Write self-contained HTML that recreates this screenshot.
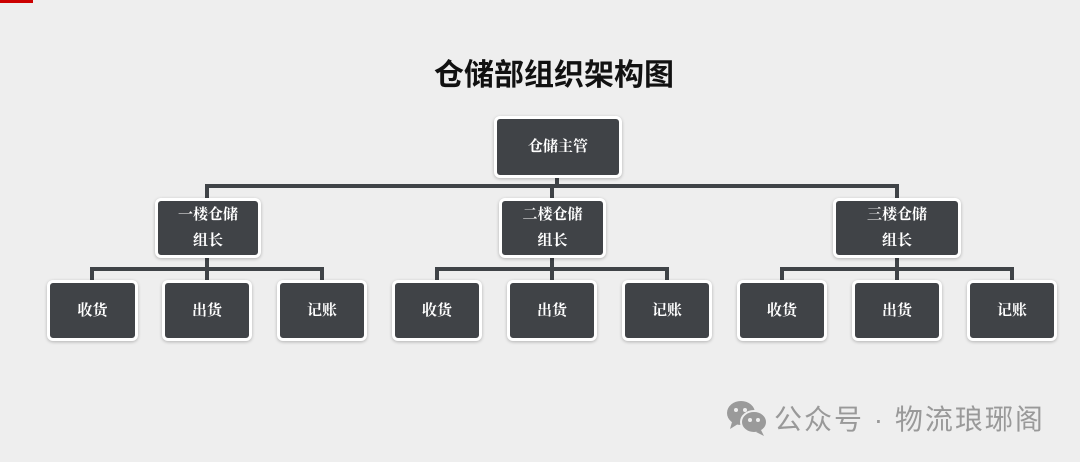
<!DOCTYPE html>
<html><head><meta charset="utf-8"><style>
body{margin:0;width:1080px;height:462px;background:#eeeeee;position:relative;overflow:hidden;font-family:"Liberation Serif","Noto Serif CJK SC",serif}
.b{position:absolute;background:#404347;border:3px solid #fff;border-radius:6px;box-sizing:border-box;color:#fff;display:flex;align-items:center;justify-content:center;text-align:center;font-size:15px;font-weight:bold;line-height:26px;box-shadow:0 1px 3px rgba(0,0,0,.25)}
.l{position:absolute;background:#3f4347}
h1{position:absolute;margin:0;left:0;width:1108px;top:50px;text-align:center;font:bold 30px "Liberation Sans","Noto Sans CJK SC",sans-serif;color:#111}
</style></head><body>
<div style="position:absolute;left:0;top:0;width:33px;height:3px;background:#c00"></div>
<h1>仓储部组织架构图</h1>
<div class="l" style="left:205px;top:184px;width:694px;height:4px"></div>
<div class="l" style="left:555px;top:175px;width:4px;height:12px"></div>
<div class="l" style="left:205px;top:184px;width:4px;height:18px"></div>
<div class="l" style="left:550px;top:184px;width:4px;height:18px"></div>
<div class="l" style="left:895px;top:184px;width:4px;height:18px"></div>
<div class="b" style="left:494px;top:116px;width:128px;height:62px">仓储主管</div>

<div class="l" style="left:90px;top:267px;width:234px;height:4px"></div>
<div class="l" style="left:435px;top:267px;width:234px;height:4px"></div>
<div class="l" style="left:780px;top:267px;width:234px;height:4px"></div>
<div class="l" style="left:205px;top:255px;width:4px;height:28px"></div>
<div class="l" style="left:550px;top:255px;width:4px;height:28px"></div>
<div class="l" style="left:895px;top:255px;width:4px;height:28px"></div>
<div class="l" style="left:90px;top:267px;width:4px;height:16px"></div>
<div class="l" style="left:320px;top:267px;width:4px;height:16px"></div>
<div class="l" style="left:435px;top:267px;width:4px;height:16px"></div>
<div class="l" style="left:665px;top:267px;width:4px;height:16px"></div>
<div class="l" style="left:780px;top:267px;width:4px;height:16px"></div>
<div class="l" style="left:1010px;top:267px;width:4px;height:16px"></div>

<div class="b" style="left:155px;top:198px;width:106px;height:60px">一楼仓储<br>组长</div>
<div class="b" style="left:499px;top:198px;width:107px;height:60px">二楼仓储<br>组长</div>
<div class="b" style="left:833px;top:198px;width:128px;height:60px">三楼仓储<br>组长</div>

<div class="b" style="left:47px;top:280px;width:91px;height:61px">收货</div>
<div class="b" style="left:162px;top:280px;width:90px;height:61px">出货</div>
<div class="b" style="left:277px;top:280px;width:90px;height:61px">记账</div>
<div class="b" style="left:392px;top:280px;width:90px;height:61px">收货</div>
<div class="b" style="left:507px;top:280px;width:90px;height:61px">出货</div>
<div class="b" style="left:622px;top:280px;width:90px;height:61px">记账</div>
<div class="b" style="left:737px;top:280px;width:90px;height:61px">收货</div>
<div class="b" style="left:852px;top:280px;width:90px;height:61px">出货</div>
<div class="b" style="left:967px;top:280px;width:90px;height:61px">记账</div>

<svg style="position:absolute;left:726px;top:400px" width="42" height="36" viewBox="0 0 42 36">
<ellipse cx="15" cy="13" rx="14" ry="12" fill="#9a9a9a"/><path d="M6 22 L4 29 L12 24Z" fill="#9a9a9a"/>
<ellipse cx="28" cy="22" rx="13" ry="11" fill="#9a9a9a" stroke="#eee" stroke-width="2"/><path d="M35 30 L38 36 L30 32Z" fill="#9a9a9a"/>
<circle cx="10" cy="10" r="2" fill="#eee"/><circle cx="19" cy="10" r="2" fill="#eee"/>
<circle cx="24" cy="20" r="2" fill="#eee"/><circle cx="32" cy="20" r="2" fill="#eee"/></svg>
<div style="position:absolute;left:774px;top:398px;font:28px 'Liberation Sans','Noto Sans CJK SC',sans-serif;color:#999;letter-spacing:2px;white-space:nowrap">公众号 · 物流琅琊阁</div>
</body></html>
